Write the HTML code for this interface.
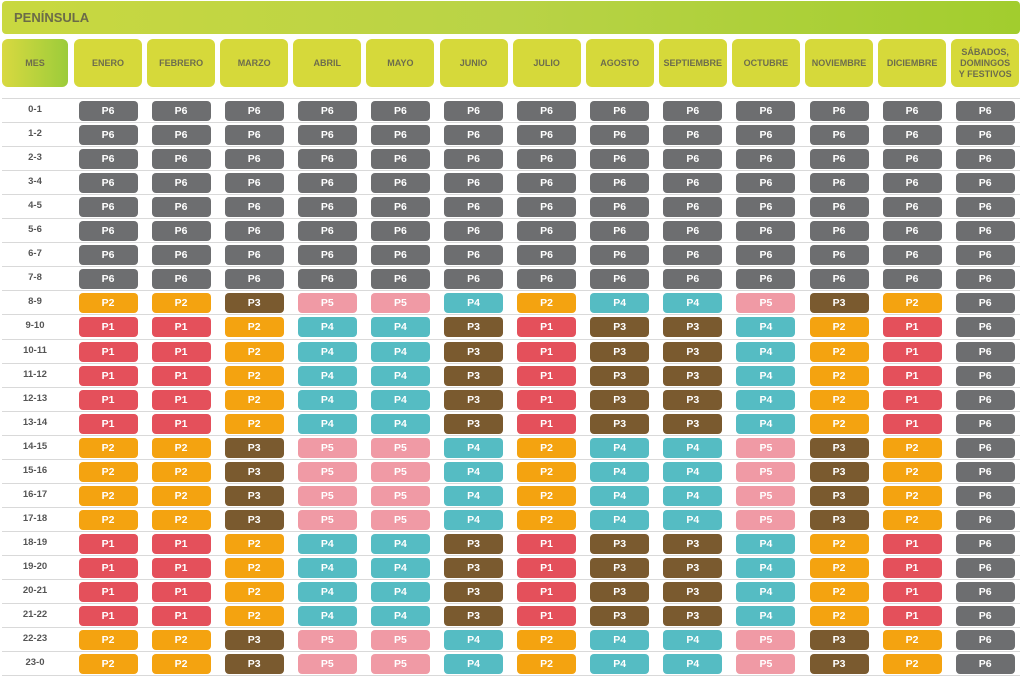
<!DOCTYPE html>
<html><head><meta charset="utf-8">
<style>
body{margin:0;width:1024px;height:677px;background:#fff;font-family:"Liberation Sans",sans-serif;position:relative;overflow:hidden}
.abs{position:absolute;box-sizing:border-box}
#title{left:2px;top:1px;width:1018px;height:33px;border-radius:4px;background:linear-gradient(90deg,#c9d840,#b9d346 50%,#a2cd2e);color:#6b6b48;font-weight:bold;font-size:13px;line-height:33px;padding-left:12px}
.hdr{top:39px;height:48px;border-radius:6px;background:#d6d93a;color:#6d6d4c;font-weight:bold;font-size:9px;display:flex;align-items:center;justify-content:center;text-align:center;line-height:11px}
.hr{left:2px;width:1018px;height:1px;background:#d9d9d9}
.lab{width:66px;left:2px;text-align:center;font-size:9.5px;font-weight:bold;color:#555;height:24px;line-height:24px}
.pill{width:59px;height:20px;border-radius:4px;color:#fff;font-weight:bold;font-size:10.5px;text-align:center;line-height:20px}
</style></head><body>
<div id="title" class="abs">PENÍNSULA</div>
<div id="root"></div>
<script>
const columns=["ENERO","FEBRERO","MARZO","ABRIL","MAYO","JUNIO","JULIO","AGOSTO","SEPTIEMBRE","OCTUBRE","NOVIEMBRE","DICIEMBRE","SÁBADOS,<br>DOMINGOS<br>Y FESTIVOS"];
const hours=["0-1","1-2","2-3","3-4","4-5","5-6","6-7","7-8","8-9","9-10","10-11","11-12","12-13","13-14","14-15","15-16","16-17","17-18","18-19","19-20","20-21","21-22","22-23","23-0"];
const patN=["P6","P6","P6","P6","P6","P6","P6","P6","P6","P6","P6","P6","P6"];
const patA=["P2","P2","P3","P5","P5","P4","P2","P4","P4","P5","P3","P2","P6"];
const patB=["P1","P1","P2","P4","P4","P3","P1","P3","P3","P4","P2","P1","P6"];
const rowPattern=["N","N","N","N","N","N","N","N","A","B","B","B","B","B","A","A","A","A","B","B","B","B","A","A"];
const colors={P1:"#e4505b",P2:"#f4a310",P3:"#7a5a2f",P4:"#55bcc3",P5:"#f09aa5",P6:"#6d6e70"};
const root=document.getElementById('root');
function mk(cls,css,html){const d=document.createElement('div');d.className='abs '+cls;d.style.cssText=css;d.innerHTML=html;root.appendChild(d);return d;}
const colX=i=>74+i*73.1, colW=68, rowY=r=>98+r*24.05;
let m=mk('hdr','left:2px;width:66px;background:linear-gradient(90deg,#d8d940,#9ccc3a);','MES');


columns.forEach((c,i)=>{const d=mk('hdr','left:'+colX(i)+'px;width:'+colW+'px;',c);

});
for(let r=0;r<=hours.length;r++){const l=mk('hr','top:'+Math.round(rowY(r))+'px;','');

}
hours.forEach((h,r)=>{const y=rowY(r);
const lb=mk('lab','top:'+y+'px;',h);


const pat=rowPattern[r]==='A'?patA:rowPattern[r]==='B'?patB:patN;
pat.forEach((p,i)=>{const x=colX(i)+(colW-59)/2;
const d=mk('pill','left:'+x+'px;top:'+(y+3)+'px;background:'+colors[p]+';',p);

});});
</script>
</body></html>
